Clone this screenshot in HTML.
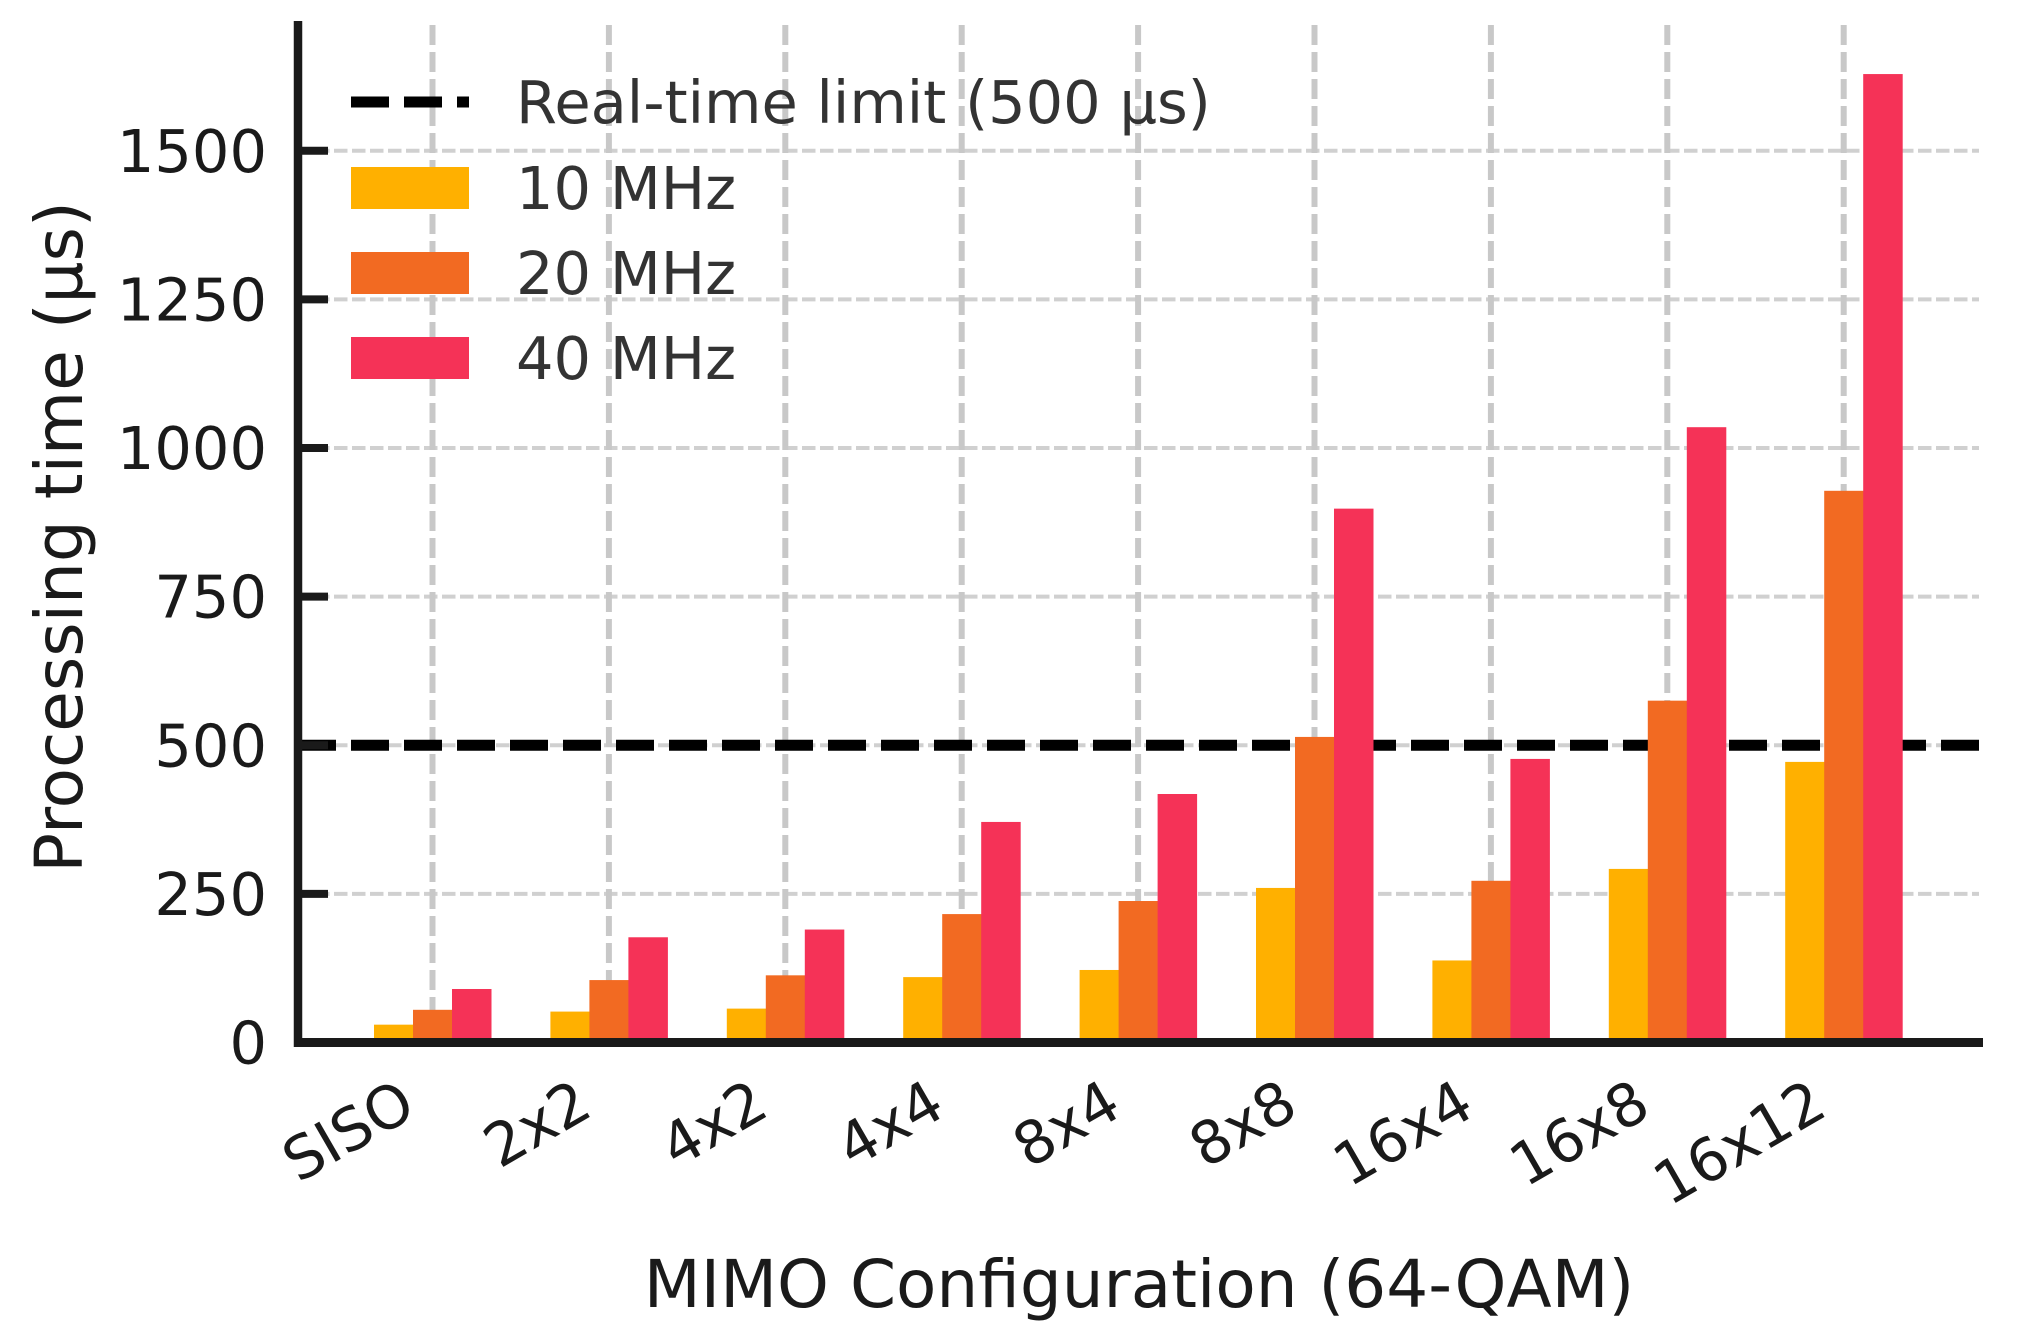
<!DOCTYPE html>
<html><head><meta charset="utf-8">
<style>
html,body{margin:0;padding:0;background:#fff;}
svg{display:block;font-family:"DejaVu Sans","Liberation Sans",sans-serif;}
</style></head>
<body>
<svg id="chart" width="2028" height="1336" viewBox="0 0 2028 1336" xmlns="http://www.w3.org/2000/svg">
<rect width="2028" height="1336" fill="#fff"/>
<g id="grid"></g>
<g id="bars"></g>
<g id="axes"></g>
<text x="1139" y="1307" font-size="66" fill="#1a1a1a" text-anchor="middle">MIMO Configuration (64-QAM)</text>
<text transform="translate(82,537) rotate(-90)" font-size="66" fill="#1a1a1a" text-anchor="middle">Processing time (µs)</text>
<g>
  <line x1="351" y1="102" x2="469" y2="102" stroke="#000" stroke-width="11" stroke-dasharray="38 15"/>
  <text x="516" y="123" font-size="59" fill="#333">Real-time limit (500 µs)</text>
  <rect x="351" y="167" width="118" height="42" fill="#FFB000"/>
  <text x="516" y="209" font-size="59" fill="#333">10 MHz</text>
  <rect x="351" y="252" width="118" height="42" fill="#F26A22"/>
  <text x="516" y="294" font-size="59" fill="#333">20 MHz</text>
  <rect x="351" y="337" width="118" height="42" fill="#F53257"/>
  <text x="516" y="379" font-size="59" fill="#333">40 MHz</text>
</g>
</svg>
<script>
const categories = ["SISO","2x2","4x2","4x4","8x4","8x8","16x4","16x8","16x12"];
const series10 = [30, 52, 57, 110, 122, 260, 138, 292, 472];
const series20 = [55, 105, 113, 216, 238, 514, 272, 575, 928];
const series40 = [90, 177, 190, 371, 418, 898, 477, 1035, 1629];
const yTicks = [0, 250, 500, 750, 1000, 1250, 1500];
const limitValue = 500;

const NS = "http://www.w3.org/2000/svg";
const X0 = 432.5, DX = 176.4, BW = 39;
const Y0 = 1042.5, KY = 0.5945;
const AX_L = 298, AX_R = 1983, AX_T = 21;
function xScale(i){ return X0 + i*DX; }
function yScale(v){ return Y0 - v*KY; }
function mk(tag, attrs, parent){
  const e = document.createElementNS(NS, tag);
  for (const k in attrs) e.setAttribute(k, attrs[k]);
  parent.appendChild(e);
  return e;
}
const grid = document.getElementById('grid');
const bars = document.getElementById('bars');
const axes = document.getElementById('axes');

yTicks.forEach(t => {
  if (t === 0) return;
  const l = mk('line', {x1:AX_L, x2:1979, y1:yScale(t), y2:yScale(t), stroke:'#d0d0d0', 'stroke-width':4, 'stroke-dasharray':'13.5 4.5'}, grid);
  
  
});
categories.forEach((c, i) => {
  const l = mk('line', {x1:xScale(i), x2:xScale(i), y1:25, y2:Y0, stroke:'#c8c8c8', 'stroke-width':6, 'stroke-dasharray':'20 7'}, grid);
  
  
});

const lim = mk('line', {x1:AX_L, x2:AX_R, y1:yScale(limitValue), y2:yScale(limitValue), stroke:'#000', 'stroke-width':11, 'stroke-dasharray':'38 15'}, grid);



const allSeries = [[series10,'#FFB000','10mhz'],[series20,'#F26A22','20mhz'],[series40,'#F53257','40mhz']];
allSeries.forEach((s, si) => {
  s[0].forEach((v, i) => {
    const x = xScale(i) + (si-1)*BW - BW/2;
    const r = mk('rect', {x:x, y:yScale(v), width:BW+0.5, height:Y0 - yScale(v), fill:s[1]}, bars);
    
    
  });
});

const ya = mk('line', {x1:AX_L, x2:AX_L, y1:AX_T, y2:1047, stroke:'#1a1a1a', 'stroke-width':8.5}, axes);


const xa = mk('line', {x1:AX_L-4, x2:AX_R, y1:Y0, y2:Y0, stroke:'#1a1a1a', 'stroke-width':9}, axes);



yTicks.forEach(t => {
  const tk = mk('line', {x1:AX_L, x2:328, y1:yScale(t), y2:yScale(t), stroke:'#1a1a1a', 'stroke-width':8}, axes);
  
  
  const tx = mk('text', {x:267, y:yScale(t)+21, 'font-size':59, fill:'#1a1a1a', 'text-anchor':'end'}, axes);
  tx.textContent = t;
  
  
});
categories.forEach((c, i) => {
  const ax = xScale(i) - 14, ay = 1114;
  const tx = mk('text', {x:ax, y:ay, 'font-size':59, fill:'#1a1a1a', 'text-anchor':'end', transform:'rotate(-30 '+ax+' '+ay+')'}, axes);
  tx.textContent = c;
  
  
});
</script>
</body></html>
